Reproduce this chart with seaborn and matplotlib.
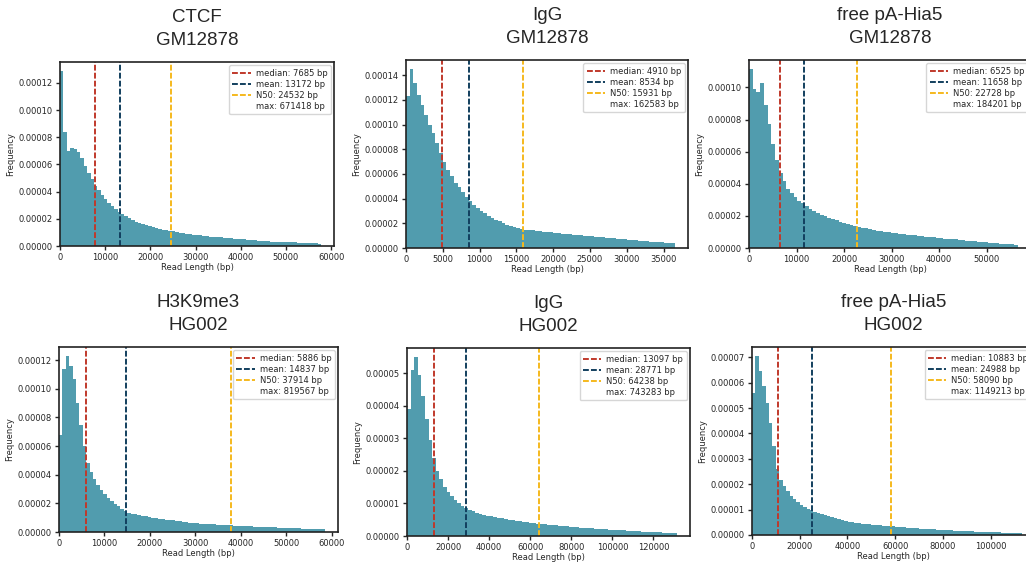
import numpy as np
import pandas as pd
import matplotlib
matplotlib.use("Agg")
import matplotlib.pyplot as plt
from matplotlib.lines import Line2D
from matplotlib.ticker import FormatStrFormatter
import seaborn as sns

# --- panel labels and summary stats ---
targets = ["CTCF", "IgG", "free pA-Hia5", "H3K9me3", "IgG", "free pA-Hia5"]
cells = ["GM12878", "GM12878", "GM12878", "HG002", "HG002", "HG002"]
medians = [7685, 4910, 6525, 5886, 13097, 10883]
means = [13172, 8534, 11658, 14837, 28771, 24988]
n50s = [24532, 15931, 22728, 37914, 64238, 58090]
maxes = [671418, 162583, 184201, 819567, 743283, 1149213]

# histogram bin width (bp) for each panel
bin_widths = [750, 500, 785, 750, 1750, 1430]

# bin heights, in units of 1e-5 per bp
ctcf_gm = [12.9, 8.4, 7.0, 7.2, 7.15, 6.9, 6.5, 5.9, 5.4, 4.9,
           4.45, 4.1, 3.75, 3.45, 3.2, 2.95, 2.7, 2.5, 2.33, 2.18,
           2.04, 1.92, 1.8, 1.7, 1.6, 1.52, 1.44, 1.37, 1.31, 1.26,
           1.21, 1.16, 1.12, 1.07, 1.03, 0.99, 0.95, 0.91, 0.88, 0.84,
           0.81, 0.78, 0.75, 0.72, 0.69, 0.67, 0.65, 0.63, 0.6, 0.58,
           0.56, 0.54, 0.52, 0.5, 0.48, 0.46, 0.44, 0.42, 0.4, 0.38,
           0.36, 0.35, 0.33, 0.32, 0.31, 0.3, 0.29, 0.28, 0.27, 0.26,
           0.25, 0.24, 0.22, 0.21, 0.2, 0.19, 0.17]
igg_gm = [12.3, 14.5, 13.4, 12.4, 11.6, 10.8, 10.0, 9.3, 8.5, 7.7,
          7.0, 6.3, 5.8, 5.3, 4.9, 4.5, 4.1, 3.8, 3.5, 3.25,
          3.0, 2.8, 2.6, 2.45, 2.3, 2.15, 2.02, 1.9, 1.8, 1.7,
          1.6, 1.52, 1.48, 1.45, 1.42, 1.38, 1.35, 1.32, 1.29, 1.26,
          1.23, 1.2, 1.17, 1.14, 1.11, 1.08, 1.06, 1.03, 1.0, 0.98,
          0.96, 0.93, 0.9, 0.87, 0.84, 0.81, 0.78, 0.75, 0.73, 0.7,
          0.67, 0.65, 0.62, 0.6, 0.57, 0.55, 0.52, 0.5, 0.48, 0.46,
          0.43, 0.41, 0.39]
hia5_gm = [11.15, 9.9, 9.7, 10.3, 8.9, 7.7, 6.5, 5.5, 4.7, 4.15,
           3.7, 3.4, 3.15, 2.95, 2.78, 2.62, 2.45, 2.3, 2.18, 2.07,
           1.97, 1.88, 1.8, 1.72, 1.65, 1.58, 1.51, 1.44, 1.38, 1.32,
           1.27, 1.22, 1.17, 1.12, 1.08, 1.04, 1.0, 0.98, 0.96, 0.93,
           0.9, 0.87, 0.84, 0.81, 0.78, 0.76, 0.73, 0.71, 0.68, 0.66,
           0.63, 0.61, 0.59, 0.57, 0.55, 0.53, 0.5, 0.48, 0.46, 0.44,
           0.42, 0.4, 0.38, 0.36, 0.34, 0.32, 0.3, 0.28, 0.26, 0.24,
           0.22, 0.2]
h3k9_hg = [6.8, 11.4, 12.3, 11.6, 10.7, 9.0, 7.5, 6.0, 4.8, 4.2,
           3.7, 3.3, 2.95, 2.65, 2.4, 2.18, 1.98, 1.8, 1.62, 1.45,
           1.34, 1.28, 1.23, 1.18, 1.13, 1.09, 1.05, 1.01, 0.97, 0.94,
           0.9, 0.87, 0.84, 0.81, 0.78, 0.74, 0.71, 0.68, 0.66, 0.64,
           0.61, 0.59, 0.57, 0.56, 0.54, 0.53, 0.52, 0.5, 0.49, 0.47,
           0.46, 0.45, 0.44, 0.43, 0.42, 0.41, 0.4, 0.38, 0.37, 0.36,
           0.35, 0.34, 0.33, 0.32, 0.31, 0.3, 0.29, 0.28, 0.27, 0.26,
           0.25, 0.24, 0.23, 0.22, 0.21, 0.2, 0.19, 0.18]
igg_hg = [3.9, 5.1, 5.5, 4.95, 4.3, 3.6, 2.95, 2.4, 2.0, 1.75,
          1.52, 1.36, 1.22, 1.1, 1.0, 0.92, 0.85, 0.8, 0.76, 0.72,
          0.68, 0.65, 0.62, 0.6, 0.58, 0.56, 0.54, 0.52, 0.5, 0.48,
          0.47, 0.45, 0.44, 0.42, 0.41, 0.4, 0.38, 0.37, 0.36, 0.35,
          0.34, 0.33, 0.32, 0.31, 0.3, 0.29, 0.28, 0.27, 0.26, 0.25,
          0.24, 0.235, 0.23, 0.22, 0.21, 0.2, 0.195, 0.19, 0.18, 0.175,
          0.17, 0.16, 0.155, 0.15, 0.14, 0.135, 0.13, 0.125, 0.12, 0.115,
          0.11, 0.105, 0.1, 0.095, 0.09]
hia5_hg = [5.6, 7.05, 6.45, 5.85, 5.2, 4.4, 3.5, 2.6, 2.15, 1.92,
           1.72, 1.55, 1.42, 1.3, 1.2, 1.11, 1.04, 0.97, 0.9, 0.86,
           0.82, 0.78, 0.74, 0.7, 0.66, 0.62, 0.58, 0.55, 0.53, 0.51,
           0.49, 0.47, 0.45, 0.44, 0.42, 0.41, 0.39, 0.38, 0.37, 0.36,
           0.35, 0.34, 0.32, 0.31, 0.3, 0.29, 0.28, 0.27, 0.26, 0.25,
           0.24, 0.235, 0.23, 0.22, 0.21, 0.2, 0.195, 0.19, 0.18, 0.17,
           0.165, 0.16, 0.15, 0.145, 0.14, 0.135, 0.13, 0.125, 0.12, 0.115,
           0.11, 0.105, 0.1, 0.095, 0.09, 0.085, 0.08, 0.075, 0.07]
densities = [ctcf_gm, igg_gm, hia5_gm, h3k9_hg, igg_hg, hia5_hg]

# colours
hist_color = "#519cae"
median_color = "#c0392b"
mean_color = "#123f5e"
n50_color = "#f5b91e"

sns.set_style("ticks")
plt.rcParams["font.family"] = ["DejaVu Sans"]

W, H = 1026, 562
fig = plt.figure(figsize=(W / 100, H / 100), dpi=100)

# axes boxes in pixels: left, top, width, height (right column runs off the edge)
boxes = [(60, 62, 274, 184), (406, 60, 282, 188), (749, 60, 282, 188),
         (59, 347, 279, 185), (407, 348, 283, 188), (752, 347, 283, 188)]

dash = (0, (3.0, 1.1))

for i in range(6):
    l, t, w, h = boxes[i]
    ax = fig.add_axes([l / W, 1 - (t + h) / H, w / W, h / H])

    bw = bin_widths[i]
    heights = np.array(densities[i]) * 1e-5
    edges = np.arange(len(heights) + 1) * bw
    df = pd.DataFrame({"length": edges[:-1] + bw / 2, "freq": heights})

    # bins as a plain list: seaborn compares it with "auto"
    sns.histplot(data=df, x="length", weights="freq", bins=edges.tolist(),
                 color=hist_color, alpha=1, linewidth=0, ax=ax)
    ax.set_xlim(left=0)

    h1 = ax.axvline(medians[i], color=median_color, ls=dash, lw=1.4)
    h2 = ax.axvline(means[i], color=mean_color, ls=dash, lw=1.4)
    h3 = ax.axvline(n50s[i], color=n50_color, ls=dash, lw=1.4)
    h4 = Line2D([], [], linestyle="none")
    labels = [f"median: {medians[i]} bp", f"mean: {means[i]} bp",
              f"N50: {n50s[i]} bp", f"max: {maxes[i]} bp"]
    ax.legend([h1, h2, h3, h4], labels, loc="upper right", fontsize=6,
              labelspacing=0.25, handlelength=2.2, handletextpad=0.6,
              borderpad=0.4, borderaxespad=0.4)

    ax.yaxis.set_major_formatter(FormatStrFormatter("%.5f"))
    ax.tick_params(length=3, width=1, labelsize=6, pad=2)
    for sp in ax.spines.values():
        sp.set_linewidth(1.2)
        sp.set_color("#222222")

    ax.set_xlabel("Read Length (bp)", fontsize=6, labelpad=0.5)
    ax.set_ylabel("Frequency", fontsize=6, labelpad=3)
    ax.set_title(f"{targets[i]}\n{cells[i]}", fontsize=13.5, linespacing=1.45,
                 family=["Liberation Sans", "DejaVu Sans"], pad=12)

fig.savefig("out.png", dpi=100)
